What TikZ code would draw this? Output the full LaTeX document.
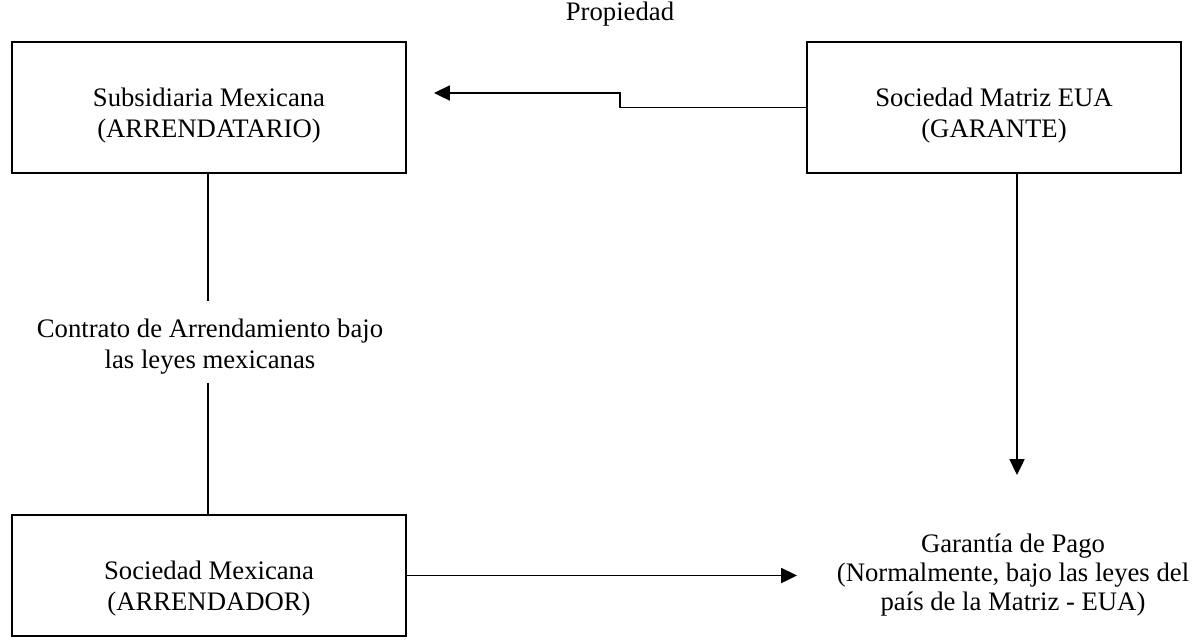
\documentclass[tikz,border=0pt]{standalone}
\usepackage{fontspec}
\setmainfont{Liberation Serif}
\usetikzlibrary{arrows.meta}

\begin{document}
\begin{tikzpicture}[x=0.02cm, y=-0.02cm, line width=1.1pt,
		font=\fontsize{15.2}{17.4}\selectfont,
		caja/.style={draw, align=center, minimum width=7.88cm, inner ysep=0pt,
			text height=1.9cm, text depth=0.72cm},
		flecha/.style={-{Triangle[length=9pt,width=8.5pt]}}]
			\useasboundingbox (0,0) rectangle (1199,640);
			\node[caja] (A) at (209,107.5) {Subsidiaria Mexicana\\(ARRENDATARIO)};
			\node[caja, minimum width=7.48cm] (B) at (994,107.5) {Sociedad Matriz EUA\\(GARANTE)};
			\node[caja, text height=1.9cm, text depth=0.52cm] (C) at (209,575.5) {Sociedad Mexicana\\(ARRENDADOR)};
			\node[anchor=base] (P) at (620,20) {Propiedad};
			\node[align=center, inner ysep=0pt, text height=1.32cm, text depth=0.28cm] (K) at (210,342) {Contrato de Arrendamiento bajo\\las leyes mexicanas};
			\node[align=center, anchor=base, font=\fontsize{15.2}{16.5}\selectfont] (G) at (1013,610) {Garant\'ia de Pago\\(Normalmente, bajo las leyes del\\pa\'is de la Matriz - EUA)};
			\coordinate (p) at (620,93);
			\coordinate (t) at (434,93);
			\coordinate (g) at (1017,475);
			\coordinate (h) at (797,575.5);
			\draw[flecha] (B.west) -| (p) -- (t);
			\draw (A.south -| 208,0) -- (K.north -| 208,0);
			\draw (K.south -| 208,0) -- (C.north -| 208,0);
			\draw[flecha] (B.south -| g) -- (g);
			\draw[flecha] (C.east) -- (h);
		\end{tikzpicture}
\end{document}
